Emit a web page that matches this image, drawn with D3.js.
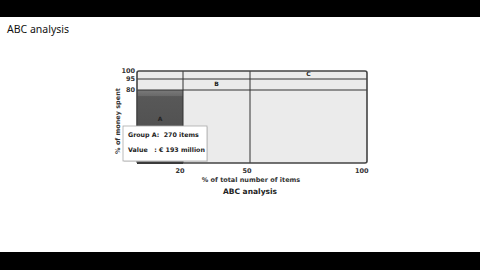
<!DOCTYPE html>
<html>
<head>
<meta charset="utf-8">
<script src="https://cdn.jsdelivr.net/npm/d3@7/dist/d3.min.js"></script>
<style>
  html, body { margin: 0; padding: 0; background: #fff; }
  svg { display: block; }
</style>
</head>
<body>
<div id="chart"></div>
<script>
// ABC analysis data: share of items vs share of money spent per group
const groups = ['A', 'B', 'C'];
const itemShare = [20, 30, 50];     // % of total number of items
const moneyShare = [80, 15, 5];     // % of money spent
const xTickValues = [20, 50, 100];
const yTickValues = [80, 95, 100];
const tipLines = ['Group A:  270 items', 'Value   : \u20ac 193 million'];

const width = 480, height = 270;
const font = 'DejaVu Sans, sans-serif';

const svg = d3.select('#chart').append('svg')
    .attr('width', width)
    .attr('height', height);

// letterbox bars
svg.append('rect').attr('x', 0).attr('y', 0).attr('width', width).attr('height', 17).attr('fill', '#000');
svg.append('rect').attr('x', 0).attr('y', 252).attr('width', width).attr('height', 18).attr('fill', '#000');

svg.append('text')
    .attr('x', 7)
    .attr('y', 33)
    .attr('font-family', 'Noto Sans, sans-serif')
    .attr('font-size', '10.5px')
    .attr('fill', '#111')
    .text('ABC analysis');

// cumulative bounds
const xEnd = d3.cumsum(itemShare);
const yEnd = d3.cumsum(moneyShare);
const xStart = xEnd.map((d, i) => d - itemShare[i]);
const yStart = yEnd.map((d, i) => d - moneyShare[i]);

// the picture stretches the upper bands, so use a polylinear scale
const xScale = d3.scaleLinear().domain([0, 20, 50, 100]).range([137, 183, 250, 367]);
const yScale = d3.scaleLinear().domain([0, 80, 95, 100]).range([163, 90, 79, 71]);

const g = svg.append('g');

const defs = svg.append('defs');
const grad = defs.append('linearGradient')
    .attr('id', 'barA').attr('x1', 0).attr('y1', 0).attr('x2', 0).attr('y2', 1);
grad.append('stop').attr('offset', '0%').attr('stop-color', '#7a7a7a');
grad.append('stop').attr('offset', '8%').attr('stop-color', '#6a6a6a');
grad.append('stop').attr('offset', '9%').attr('stop-color', '#585858');
grad.append('stop').attr('offset', '100%').attr('stop-color', '#4a4a4a');

// plot background
g.append('rect')
    .attr('x', xScale(0))
    .attr('y', yScale(100))
    .attr('width', xScale(100) - xScale(0))
    .attr('height', yScale(0) - yScale(100))
    .attr('fill', '#ebebeb');

// group A is the filled bar
g.append('rect')
    .attr('x', xScale(xStart[0]))
    .attr('y', yScale(yEnd[0]))
    .attr('width', xScale(xEnd[0]) - xScale(xStart[0]))
    .attr('height', yScale(yStart[0]) - yScale(yEnd[0]))
    .attr('fill', 'url(#barA)');

g.append('line')
    .attr('x1', xScale(xStart[0])).attr('x2', xScale(xEnd[0]))
    .attr('y1', yScale(0)).attr('y2', yScale(0))
    .attr('stroke', '#222').attr('stroke-width', 2);

// grid lines at the group boundaries
g.selectAll('line.vgrid')
    .data(xEnd.slice(0, -1))
    .enter().append('line')
    .attr('class', 'vgrid')
    .attr('x1', d => xScale(d)).attr('x2', d => xScale(d))
    .attr('y1', yScale(100)).attr('y2', yScale(0))
    .attr('stroke', '#333').attr('stroke-width', 1);

g.selectAll('line.hgrid')
    .data(yEnd.slice(0, -1))
    .enter().append('line')
    .attr('class', 'hgrid')
    .attr('x1', xScale(0)).attr('x2', xScale(100))
    .attr('y1', d => yScale(d)).attr('y2', d => yScale(d))
    .attr('stroke', '#333').attr('stroke-width', 1);

// frame
g.append('rect')
    .attr('x', xScale(0))
    .attr('y', yScale(100))
    .attr('width', xScale(100) - xScale(0))
    .attr('height', yScale(0) - yScale(100))
    .attr('rx', 2)
    .attr('fill', 'none')
    .attr('stroke', '#444')
    .attr('stroke-width', 1.6);

// group labels
g.selectAll('text.glabel')
    .data(groups)
    .enter().append('text')
    .attr('class', 'glabel')
    .attr('x', (d, i) => (xScale(xStart[i]) + xScale(xEnd[i])) / 2)
    .attr('y', (d, i) => yScale(yStart[i] + moneyShare[i] * 0.6))
    .attr('dy', '0.35em')
    .attr('text-anchor', 'middle')
    .attr('font-family', font)
    .attr('font-weight', 'bold')
    .attr('font-size', '6px')
    .attr('fill', '#222')
    .text(d => d);

// axes
const xAxis = d3.axisBottom(xScale).tickValues(xTickValues).tickSize(0).tickPadding(0);
const xg = svg.append('g')
    .attr('transform', `translate(0,${yScale(0) + 5})`)
    .call(xAxis);
xg.select('.domain').remove();
xg.selectAll('text')
    .attr('text-anchor', 'end')
    .attr('dx', '1')
    .attr('font-family', font)
    .attr('font-weight', 'bold')
    .attr('font-size', '6.5px')
    .attr('fill', '#333');

const yAxis = d3.axisLeft(yScale).tickValues(yTickValues).tickSize(0).tickPadding(2);
const yg = svg.append('g')
    .attr('transform', `translate(${xScale(0)},0)`)
    .call(yAxis);
yg.select('.domain').remove();
yg.selectAll('text')
    .attr('dy', '0.2em')
    .attr('font-family', font)
    .attr('font-weight', 'bold')
    .attr('font-size', '6.5px')
    .attr('fill', '#333');

svg.append('text')
    .attr('x', 251)
    .attr('y', 182)
    .attr('text-anchor', 'middle')
    .attr('font-family', font)
    .attr('font-weight', 'bold')
    .attr('font-size', '6.5px')
    .attr('fill', '#333')
    .text('% of total number of items');

svg.append('text')
    .attr('transform', 'translate(120,121) rotate(-90)')
    .attr('text-anchor', 'middle')
    .attr('font-family', font)
    .attr('font-weight', 'bold')
    .attr('font-size', '6.5px')
    .attr('fill', '#333')
    .text('% of money spent');

svg.append('text')
    .attr('x', 250)
    .attr('y', 194)
    .attr('text-anchor', 'middle')
    .attr('font-family', font)
    .attr('font-weight', 'bold')
    .attr('font-size', '7.5px')
    .attr('fill', '#222')
    .text('ABC analysis');

// tooltip box
const tip = svg.append('g').attr('transform', 'translate(123,126)');
tip.append('rect')
    .attr('x', 1).attr('y', 1)
    .attr('width', 84).attr('height', 35)
    .attr('fill', '#ccc').attr('opacity', 0.5);
tip.append('rect')
    .attr('width', 84).attr('height', 35)
    .attr('fill', '#fff')
    .attr('stroke', '#aaa')
    .attr('stroke-width', 0.8);
tip.selectAll('text')
    .data(tipLines)
    .enter().append('text')
    .attr('x', 5)
    .attr('y', (d, i) => 11 + i * 15)
    .attr('xml:space', 'preserve')
    .style('white-space', 'pre')
    .attr('font-family', font)
    .attr('font-weight', 'bold')
    .attr('font-size', '6.3px')
    .attr('fill', '#222')
    .text(d => d);
</script>
</body>
</html>
